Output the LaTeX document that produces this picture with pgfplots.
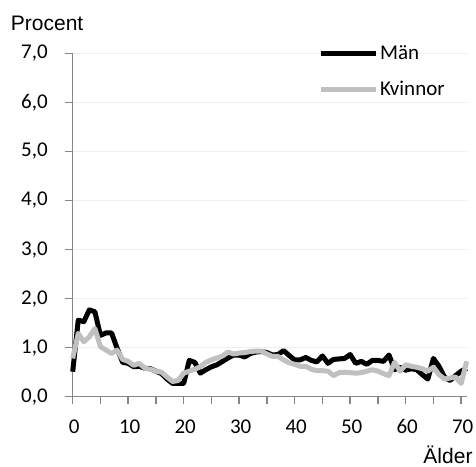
\documentclass[border=0pt]{standalone}
\usepackage{fontspec}
\setmainfont{Carlito}
\newfontfamily\arialf{Liberation Sans}
\usepackage{pgfplots}
\pgfplotsset{compat=1.18}
\definecolor{axgray}{HTML}{868686}
\definecolor{gridgray}{HTML}{EEEEEE}
\definecolor{womgray}{HTML}{C0C0C0}
\begin{document}
\begin{tikzpicture}
\useasboundingbox (-72.7bp,-70.3bp) rectangle (403.3bp,396.7bp);
\begin{axis}[
  at={(0,0)}, anchor=south west,
  scale only axis, width=394bp, height=343.4bp,
  xmin=0, xmax=71, ymin=0, ymax=7,
  axis x line=bottom, axis y line=left,
  axis line style={-, draw=axgray, line width=1.5bp},
  xtick={0,10,...,70}, minor xtick={5,15,...,65},
  ytick={0,1,...,7},
  tick align=outside,
  major tick length=7.5bp, minor tick length=7.5bp,
  every tick/.style={draw=axgray, line width=1.5bp},
  minor tick style={draw=axgray, line width=1.5bp},
  ymajorgrids,
  major grid style={draw=gridgray, line width=1.5bp},
  tick label style={font=\fontsize{21bp}{25bp}\selectfont},
  /pgf/number format/assume math mode=true,
  yticklabel style={/pgf/number format/fixed, /pgf/number format/fixed zerofill, /pgf/number format/precision=1, /pgf/number format/use comma},
  xticklabel style={/pgf/number format/fixed, /pgf/number format/precision=0},
  xticklabel style={yshift=-12bp, xshift=1.5bp},
  yticklabel style={xshift=-14bp},
  clip=false,
  legend style={at={(rel axis cs:0.624,1)}, anchor=north west, yshift=9bp, draw=none, fill=none,
     inner sep=0pt, outer sep=0pt, row sep=17bp,
     font=\fontsize{21bp}{25bp}\selectfont,
     nodes={inner sep=1.5bp}},
  legend cell align=left,
  legend image code/.code={\draw[#1] (0bp,0bp) -- (55bp,0bp);},
]
\addplot[black, line width=5bp, line join=round] coordinates {
(0,0.51)(1,1.56)(2,1.53)(3,1.77)(4,1.73)(5,1.25)(6,1.30)(7,1.30)(8,0.99)(9,0.70)
(10,0.68)(11,0.61)(12,0.62)(13,0.58)(14,0.57)(15,0.52)(16,0.47)(17,0.36)(18,0.27)(19,0.27)
(20,0.27)(21,0.74)(22,0.70)(23,0.48)(24,0.55)(25,0.61)(26,0.65)(27,0.72)(28,0.79)(29,0.85)
(30,0.85)(31,0.81)(32,0.88)(33,0.91)(34,0.92)(35,0.90)(36,0.85)(37,0.86)(38,0.94)(39,0.84)
(40,0.75)(41,0.75)(42,0.80)(43,0.74)(44,0.71)(45,0.83)(46,0.68)(47,0.76)(48,0.77)(49,0.78)
(50,0.86)(51,0.68)(52,0.72)(53,0.66)(54,0.74)(55,0.74)(56,0.72)(57,0.85)(58,0.55)(59,0.60)
(60,0.54)(61,0.57)(62,0.55)(63,0.45)(64,0.36)(65,0.78)(66,0.62)(67,0.40)(68,0.33)(69,0.43)
(70,0.52)(71,0.58)
};
\addlegendentry{Män}
\addplot[womgray, line width=5bp, line join=round] coordinates {
(0,0.78)(1,1.29)(2,1.12)(3,1.22)(4,1.39)(5,1.02)(6,0.95)(7,0.88)(8,0.95)(9,0.76)
(10,0.72)(11,0.64)(12,0.68)(13,0.58)(14,0.56)(15,0.52)(16,0.50)(17,0.40)(18,0.31)(19,0.33)
(20,0.48)(21,0.52)(22,0.56)(23,0.61)(24,0.70)(25,0.75)(26,0.79)(27,0.83)(28,0.91)(29,0.87)
(30,0.89)(31,0.90)(32,0.92)(33,0.93)(34,0.93)(35,0.87)(36,0.82)(37,0.82)(38,0.75)(39,0.69)
(40,0.66)(41,0.62)(42,0.62)(43,0.56)(44,0.53)(45,0.53)(46,0.52)(47,0.43)(48,0.49)(49,0.50)
(50,0.49)(51,0.48)(52,0.49)(53,0.52)(54,0.55)(55,0.52)(56,0.47)(57,0.43)(58,0.70)(59,0.52)
(60,0.65)(61,0.62)(62,0.60)(63,0.57)(64,0.52)(65,0.60)(66,0.45)(67,0.36)(68,0.38)(69,0.40)
(70,0.27)(71,0.72)
};
\addlegendentry{Kvinnor}
\end{axis}
\node[anchor=base west, inner sep=0pt, font=\arialf\fontsize{21bp}{25bp}\selectfont] at (-62bp,365.7bp) {Procent};
\node[anchor=base east, inner sep=0pt, font=\arialf\fontsize{21bp}{25bp}\selectfont] at (400bp,-66.5bp) {Älder};
\end{tikzpicture}
\end{document}
